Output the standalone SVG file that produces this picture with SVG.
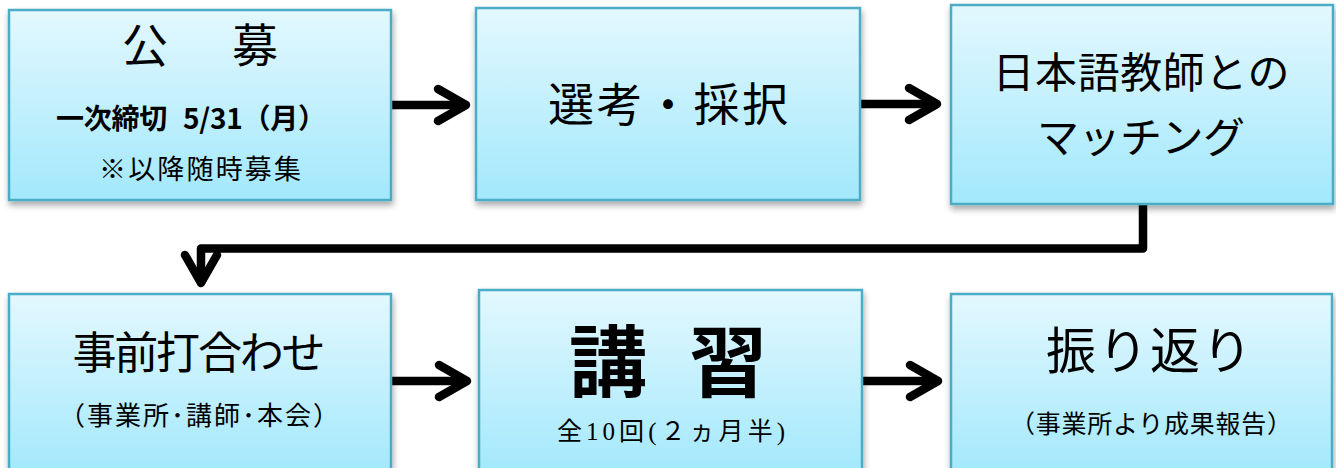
<svg xmlns="http://www.w3.org/2000/svg" width="1336" height="468" viewBox="0 0 1336 468">
<style>
  .box { fill: url(#g); stroke: #4bacc6; stroke-width: 2.5; filter: url(#sh); }
  text { font-family: "Noto Sans CJK JP", "Noto Sans", sans-serif; fill: #000; text-anchor: middle; }
  .b { font-weight: bold; }
  .conn { fill: none; stroke: #000; stroke-width: 8.5; stroke-linejoin: round; }
  .serif { font-family: "Liberation Serif", "Noto Sans CJK JP", serif; }
</style>
<defs>
  <linearGradient id="g" x1="0" y1="0" x2="0" y2="1">
    <stop offset="0" stop-color="#e3f8fe"/>
    <stop offset="1" stop-color="#a2e8fc"/>
  </linearGradient>
  <filter id="sh" x="-10%" y="-10%" width="120%" height="125%">
    <feDropShadow dx="1" dy="4" stdDeviation="3" flood-color="#000" flood-opacity="0.35"/>
  </filter>
  <marker id="ah" markerUnits="userSpaceOnUse" markerWidth="44" markerHeight="44" viewBox="0 0 44 44" refX="36" refY="22" orient="auto" overflow="visible">
    <path d="M8,6 L36,22 L8,38" fill="none" stroke="#000" stroke-width="8.5" stroke-linecap="round" stroke-linejoin="round"/>
  </marker>
</defs>
<rect width="1336" height="468" fill="#fff"/>

<g id="connectors">
  <path class="conn" d="M392,105 H466" marker-end="url(#ah)"/>
  <path class="conn" d="M860,104 H937" marker-end="url(#ah)"/>
  <path class="conn" d="M1143,204 V248.5 H201 V283" marker-end="url(#ah)"/>
  <path class="conn" d="M392,381 H467" marker-end="url(#ah)"/>
  <path class="conn" d="M862,381 H938" marker-end="url(#ah)"/>
</g>

<g id="node1">
  <rect class="box" x="9" y="10" width="382" height="190"/>
  <text x="200" y="62" font-size="46" textLength="156" lengthAdjust="spacing">公　募</text>
  <text class="b" x="191" y="129" font-size="28" textLength="270" lengthAdjust="spacing">一次締切 <tspan dx="10">5/31（月）</tspan></text>
  <text x="200" y="179" font-size="27" textLength="202" lengthAdjust="spacing">※以降随時募集</text>
</g>

<g id="node2">
  <rect class="box" x="476" y="8" width="384" height="192"/>
  <text x="668" y="121" font-size="46" textLength="240" lengthAdjust="spacing">選考・採択</text>
</g>

<g id="node3">
  <rect class="box" x="951" y="5" width="382" height="199"/>
  <text x="1141" y="88" font-size="42" textLength="297" lengthAdjust="spacing">日本語教師との</text>
  <text x="1141" y="153" font-size="42" textLength="208" lengthAdjust="spacing">マッチング</text>
</g>

<g id="node4">
  <rect class="box" x="9" y="294" width="382" height="182"/>
  <text x="199" y="369" font-size="44" textLength="253" lengthAdjust="spacing">事前打合わせ</text>
  <text x="199" y="425" font-size="26" textLength="280" lengthAdjust="spacing">（事業所･講師･本会）</text>
</g>

<g id="node5">
  <rect class="box" x="479" y="290" width="383" height="186"/>
  <text class="b" x="668" y="391" font-size="78" textLength="198" lengthAdjust="spacing">講 習</text>
  <text x="671" y="440" font-size="25" textLength="228" lengthAdjust="spacing">全<tspan class="serif">10</tspan>回<tspan class="serif">(</tspan>２ヵ月半<tspan class="serif">)</tspan></text>
</g>

<g id="node6">
  <rect class="box" x="951" y="294" width="381" height="182"/>
  <text x="1149" y="369" font-size="50" textLength="206" lengthAdjust="spacing">振り返り</text>
  <text x="1151" y="433" font-size="25" textLength="282" lengthAdjust="spacing">（事業所より成果報告）</text>
</g>
</svg>
